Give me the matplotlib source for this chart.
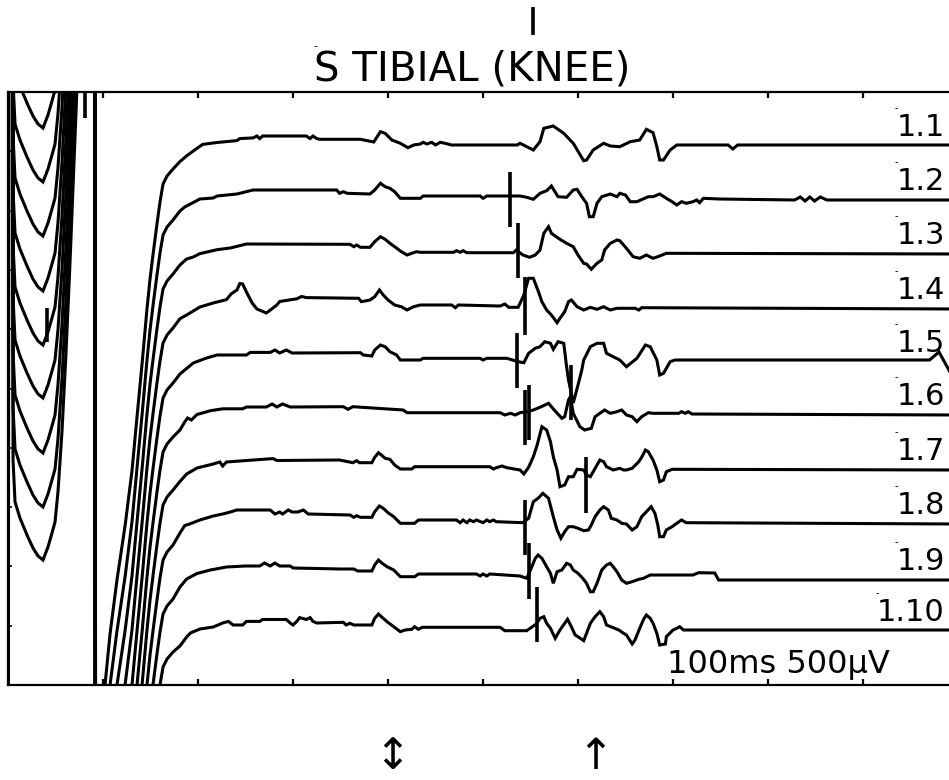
import matplotlib
matplotlib.use("Agg")
import numpy as np
import matplotlib.pyplot as plt
from matplotlib.transforms import blended_transform_factory

# screen: 100 ms per division, amplitudes in µV above the bottom edge
SCREEN_MS = 1000
SCREEN_UV = 5930

trace_labels = ["1.1", "1.2", "1.3", "1.4", "1.5", "1.6", "1.7", "1.8", "1.9", "1.10"]
# resting level of each trace at the right edge (µV above the bottom)
baselines = [5390, 4850, 4310, 3760, 3230, 2700, 2150, 1610, 1050, 540]
# level before the response window, relative to the baseline
pre_levels = [70, 100, 100, 110, 90, 80, 100, 90, 110, 90]

# stimulus artefact common to all traces (ms, µV relative to pre level)
artefact_ms = [0, 1, 4, 5.3, 7.4, 12.6, 20, 26.3, 31.6, 36.8, 42.1, 46.3, 49.5,
               52.6, 56.8, 61.1, 65.3, 69.5, 73.7, 77.9, 80, 89.5, 93.7, 100,
               102.1, 107.4, 114.7, 123.2, 130.5, 135.8, 141.1, 146.3, 149.5,
               152.6, 156.8, 160, 163.2, 167.4, 173.7]
artefact_uv = [-20000, 20000, 20000, 1620, 1200, 1040, 870, 740, 660, 620, 750,
               890, 1000, 1300, 1900, 2700, 3600, 4600, 5600, 8000, 20000, 20000,
               -20000, -7000, -5460, -4950, -4410, -3870, -3320, -2780, -2250,
               -1700, -1400, -1160, -850, -630, -450, -370, -300]

# responses, (ms, µV relative to baseline)
resp_1_1 = [(181, -156), (188, -99), (195, -50), (202, -3), (205, 16), (220, 35),
            (241, 54), (244, 74), (258, 81), (262, 100), (265, 74), (268, 100),
            (314, 100), (318, 74), (321, 100), (325, 74), (328, 67), (371, 67),
            (385, 40), (392, 143), (397, 127), (404, 60), (413, 27), (421, -17),
            (427, 10), (434, 20), (437, 37), (441, 20), (446, 37), (450, 10),
            (455, 37), (460, 27), (467, 10), (536, 10), (539, 27), (553, -40),
            (560, 43), (564, 177), (574, 200), (585, 127), (595, 27), (606, -147),
            (609, -140), (616, -40), (627, 27), (634, 0), (644, -7), (655, 43),
            (665, 60), (672, 167), (679, 133), (683, -7), (686, -140), (690, -140),
            (697, -40), (704, 10), (758, 10), (763, -30), (768, 10), (1000, 10)]
resp_1_2 = [(181, -110), (186, -70), (202, 10), (216, 20), (220, 40), (241, 60),
            (258, 100), (346, 100), (349, 67), (353, 83), (357, 67), (381, 60),
            (386, 100), (392, 167), (397, 133), (402, 117), (407, 83), (413, 17),
            (434, 17), (437, 40), (497, 40), (500, 17), (504, 40), (539, 40),
            (546, 27), (553, 7), (560, 67), (567, 93), (572, 140), (579, 33),
            (588, 27), (595, 100), (599, 107), (604, 33), (609, -33), (612, -167),
            (616, -167), (620, -33), (625, 33), (634, 60), (641, 33), (644, 67),
            (650, 50), (655, -17), (662, -17), (674, 33), (679, 33), (686, 60),
            (693, 17), (699, -17), (704, -50), (709, -17), (714, -33), (721, -17),
            (725, 0), (728, -27), (732, 17), (749, 10), (828, 0), (834, 30),
            (839, -10), (844, 30), (849, -10), (855, 30), (862, 0), (1000, 0)]
resp_1_3 = [(181, -110), (188, -50), (195, -30), (202, 4), (220, 43), (234, 60),
            (251, 100), (360, 97), (364, 73), (367, 90), (371, 67), (381, 67),
            (386, 123), (392, 173), (397, 147), (402, 107), (407, 73), (414, 23),
            (420, -10), (425, 7), (430, 23), (434, 17), (469, 17), (472, 33),
            (476, 17), (479, 33), (483, 13), (532, 13), (535, 40), (542, -10),
            (549, -33), (555, -10), (560, 40), (564, 207), (569, 273), (572, 207),
            (581, 147), (588, 107), (595, 73), (600, -10), (606, -93), (609, -100),
            (614, -153), (620, -93), (625, -60), (628, 40), (634, 107), (641, 140),
            (644, 133), (651, 57), (658, -27), (665, -43), (672, -10), (679, -43),
            (686, -20), (693, 7), (1000, 0)]
resp_1_4 = [(181, -97), (188, -60), (195, -20), (202, 20), (216, 60), (230, 94),
            (235, 152), (241, 190), (244, 255), (247, 250), (251, 170), (257, 60),
            (262, 0), (272, -40), (283, 40), (286, 75), (304, 102), (309, 125),
            (314, 114), (369, 107), (372, 73), (381, 90), (386, 123), (391, 190),
            (395, 140), (400, 90), (407, 40), (414, 23), (420, -10), (427, 23),
            (434, 40), (467, 40), (471, 13), (474, 40), (518, 30), (523, 50),
            (527, 17), (537, 17), (543, 140), (548, 307), (553, 307), (559, 157),
            (562, 73), (567, -10), (572, -60), (578, -137), (581, -93), (586, -27),
            (590, 73), (593, 90), (599, 23), (606, -10), (613, 17), (620, -3),
            (627, 23), (634, -10), (641, 7), (660, 7), (664, -10), (667, 13),
            (1000, 0)]
resp_1_5 = [(181, -120), (188, -65), (195, -10), (209, 40), (220, 70), (251, 70),
            (255, 96), (276, 96), (281, 120), (286, 90), (293, 120), (299, 90),
            (371, 93), (374, 70), (383, 60), (386, 120), (392, 170), (397, 153),
            (402, 103), (409, 70), (413, 20), (434, 20), (437, 37), (497, 37),
            (500, 20), (504, 37), (525, 37), (537, 3), (543, -7), (548, 87),
            (555, 137), (560, 153), (565, 203), (571, 187), (574, 127), (579, 203),
            (585, 187), (588, -47), (590, -180), (595, -410), (600, -230),
            (604, -80), (606, 20), (613, 153), (620, 187), (627, 187), (630, 87),
            (637, 53), (644, 20), (651, -47), (662, 37), (671, 170), (676, 153),
            (683, 20), (686, -130), (690, -113), (697, 3), (702, 20), (970, 20),
            (980, 100), (991, -90), (1000, -250)]
resp_1_6 = [(181, -150), (186, -70), (189, -30), (193, -50), (199, 5), (213, 43),
            (226, 62), (247, 62), (251, 80), (272, 80), (278, 110), (283, 80),
            (289, 110), (297, 80), (353, 83), (358, 57), (363, 83), (416, 50),
            (420, 23), (518, 23), (523, 0), (529, 17), (534, 0), (539, 23),
            (546, 33), (553, 50), (560, 77), (569, 117), (575, 50), (583, -33),
            (586, -17), (590, 150), (592, 183), (595, 17), (602, -117),
            (607, -150), (614, -133), (618, -17), (623, 17), (628, 50), (634, 17),
            (641, 33), (646, 50), (651, 0), (657, -17), (662, -67), (667, -17),
            (674, 23), (679, 17), (706, 17), (709, 33), (713, 17), (716, 33),
            (720, 10), (1000, 0)]
resp_1_7 = [(181, -115), (188, -40), (199, 20), (216, 60), (223, 80), (226, 40),
            (230, 80), (251, 95), (279, 114), (283, 95), (349, 100), (363, 73),
            (367, 93), (370, 73), (383, 73), (386, 127), (390, 173), (393, 150),
            (397, 117), (402, 107), (407, 50), (413, 10), (425, 10), (428, 33),
            (507, 33), (511, 10), (514, 23), (520, 40), (525, 23), (539, 0),
            (543, -40), (548, 27), (553, 133), (557, 250), (562, 433), (567, 400),
            (571, 283), (574, 133), (578, 0), (581, -167), (586, -150), (590, -67),
            (595, -67), (599, 7), (606, 0), (609, -50), (613, -67), (616, -17),
            (620, 50), (623, 100), (627, 83), (630, 33), (637, 0), (644, 17),
            (648, 0), (651, 0), (657, 17), (664, 83), (667, 127), (671, 200),
            (674, 183), (679, 100), (683, 0), (686, -117), (690, -100), (693, -17),
            (699, 7), (1000, 0)]
resp_1_8 = [(181, -90), (186, -16), (192, 3), (202, 40), (216, 80), (226, 100),
            (234, 120), (241, 140), (276, 140), (281, 100), (286, 120), (289, 100),
            (295, 140), (299, 120), (305, 120), (311, 140), (316, 100), (360, 90),
            (364, 67), (367, 83), (371, 67), (383, 67), (386, 123), (391, 180),
            (395, 157), (400, 113), (406, 73), (413, 7), (428, 7), (432, 40),
            (472, 40), (476, 13), (479, 40), (483, 13), (486, 40), (490, 23),
            (493, 40), (500, 13), (504, 40), (507, 23), (511, 40), (514, 23),
            (542, 13), (548, 57), (553, 223), (558, 257), (563, 307), (569, 257),
            (574, 73), (578, -60), (582, -143), (586, -77), (590, -27), (595, -27),
            (600, -43), (606, -67), (611, -60), (614, -10), (618, 73), (623, 140),
            (627, 173), (632, 140), (635, 57), (641, 40), (646, 7), (651, 0),
            (657, -60), (662, -27), (667, 73), (672, 123), (677, 173), (681, 107),
            (684, -10), (686, -127), (690, -127), (693, -60), (699, -27), (704, 7),
            (709, 40), (714, 13), (1000, 0)]
resp_1_9 = [(181, -70), (188, 10), (199, 65), (213, 100), (230, 130), (250, 140),
            (265, 140), (270, 170), (276, 140), (281, 170), (286, 140), (297, 140),
            (300, 120), (350, 110), (364, 110), (368, 90), (383, 90), (386, 150),
            (390, 200), (393, 173), (399, 133), (406, 100), (413, 33), (428, 33),
            (432, 60), (493, 60), (497, 40), (500, 60), (504, 40), (507, 60),
            (539, 40), (546, 17), (550, 100), (555, 217), (558, 250), (562, 217),
            (567, 133), (571, 67), (574, -33), (578, 83), (583, 100), (588, 167),
            (592, 150), (595, 100), (600, 67), (605, 17), (609, -33), (613, -117),
            (616, -117), (620, -33), (625, 100), (630, 150), (634, 167), (637, 133),
            (641, 83), (646, 0), (651, -33), (657, -17), (664, 7), (669, 17),
            (676, 50), (721, 50), (727, 73), (744, 70), (748, 0), (1000, 0)]
resp_1_10 = [(181, -150), (188, -60), (192, -20), (202, 20), (216, 40), (226, 80),
             (232, 96), (237, 60), (247, 60), (251, 96), (265, 96), (268, 115),
             (293, 115), (297, 80), (300, 60), (304, 96), (307, 134), (314, 115),
             (318, 134), (321, 96), (325, 80), (353, 87), (356, 60), (360, 77),
             (364, 60), (383, 60), (386, 127), (390, 170), (393, 143), (399, 93),
             (406, 43), (413, -7), (418, 10), (425, 17), (428, 43), (432, 17),
             (436, 37), (518, 37), (523, 3), (546, 3), (553, 50), (556, 70),
             (560, 127), (564, 143), (567, 77), (571, 27), (576, -73), (581, 10),
             (586, 77), (589, 117), (593, 43), (597, -40), (600, -57), (606, -97),
             (609, -23), (613, 77), (618, 143), (623, 193), (627, 143), (630, 60),
             (636, 37), (643, 10), (648, -23), (651, -40), (657, -130), (660, -90),
             (665, 27), (669, 117), (672, 160), (676, 127), (679, 77), (683, -23),
             (686, -140), (692, -130), (693, -57), (700, 10), (704, 27), (707, 43),
             (711, 10), (749, 10), (1000, 10)]
responses = [resp_1_1, resp_1_2, resp_1_3, resp_1_4, resp_1_5,
             resp_1_6, resp_1_7, resp_1_8, resp_1_9, resp_1_10]

# cursor marks: trace index, time (ms), span (µV relative to baseline)
cursor_trace = [0, 0, 1, 2, 3, 4, 4, 5, 5, 5, 6, 7, 8, 9]
cursor_ms = [81, 553, 528, 537, 544, 41, 536, 593, 544, 548, 608, 544, 548, 557]
cursor_lo = [280, 1110, -270, -240, -260, 200, -260, -50, -300, -250, -430, -310, -190, -110]
cursor_hi = [540, 1390, 280, 310, 320, 540, 290, 500, 250, 300, 130, 240, 370, 440]

arrow_ms = [404, 618]
arrow_glyphs = ["\u2195", "\u2191"]

title = "S TIBIAL (KNEE)"
scale_text = "100ms 500\u00b5V"

W, H = 949, 780
fig = plt.figure(figsize=(W / 100, H / 100), dpi=100)
ax = fig.add_axes([8 / W, 1 - 685 / H, 950 / W, 593 / H])
ax.set_xlim(0, SCREEN_MS)
ax.set_ylim(0, SCREEN_UV)

for k, resp in enumerate(responses):
    t = list(artefact_ms) + [p[0] for p in resp]
    y = [baselines[k] + pre_levels[k] + v for v in artefact_uv] + \
        [baselines[k] + p[1] for p in resp]
    ax.plot(t, y, color="black", lw=2.2, solid_joinstyle="miter")

for k, ms, lo, hi in zip(cursor_trace, cursor_ms, cursor_lo, cursor_hi):
    ax.vlines(ms, baselines[k] + lo, baselines[k] + hi, color="black",
              lw=2.6, clip_on=False)

for k, lab in enumerate(trace_labels):
    txt = ax.text(986, baselines[k] + 40, lab, ha="right", va="bottom",
                  fontsize=22)
    # small tick mark printed above the left of each label
    ax.annotate("-", xy=(0.03, 0.98), xycoords=txt, ha="right", va="bottom",
                fontsize=7)

ax.text(694, 120, scale_text, ha="left", va="baseline", fontsize=23)

for side in ["top", "bottom", "left"]:
    ax.spines[side].set_linewidth(1.6)
ax.spines["right"].set_visible(False)
ax.set_xticks(np.arange(100, SCREEN_MS, 100))
ax.set_yticks(np.linspace(0, SCREEN_UV, 11)[1:-1])
ax.tick_params(axis="x", which="both", direction="in", top=True, bottom=True,
               length=4, width=1.6, labelbottom=False)
ax.tick_params(axis="y", direction="in", left=True, right=False,
               length=3, width=1.2, labelleft=False)

ttl = fig.text(472 / W, 1 - 81 / H, title, ha="center", va="baseline",
               fontsize=29)
ax.annotate("-", xy=(0.0, 0.97), xycoords=ttl, ha="left", va="bottom",
            fontsize=8)

tr = blended_transform_factory(ax.transData, fig.transFigure)
for ms, g in zip(arrow_ms, arrow_glyphs):
    ax.text(ms, 1 - 757 / H, g, transform=tr, ha="center", va="center",
            fontsize=31, clip_on=False)

fig.savefig("out.png", dpi=100)
